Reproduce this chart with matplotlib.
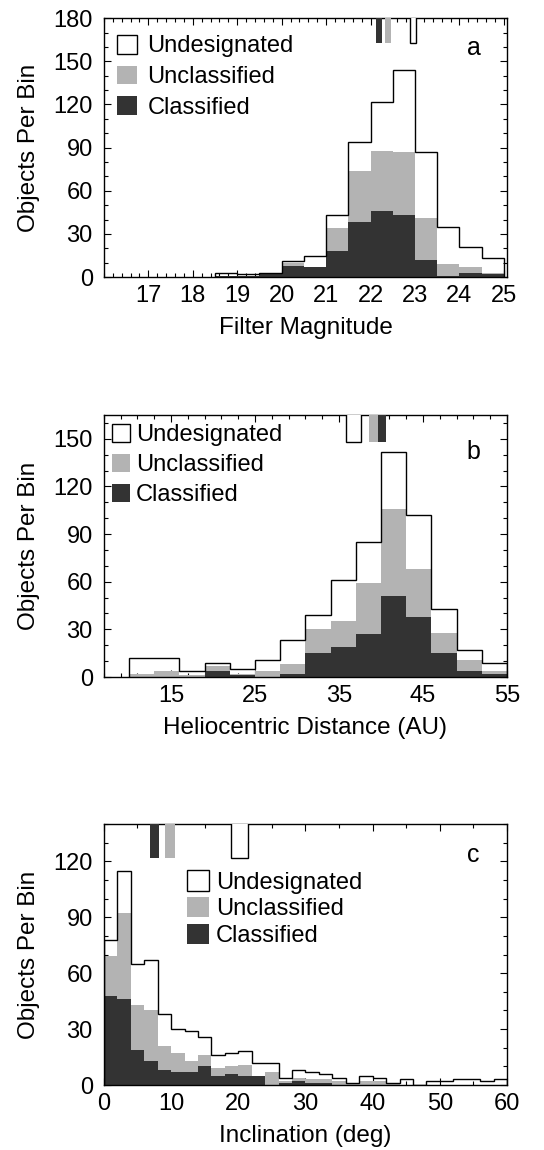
import numpy as np
import matplotlib
matplotlib.use("Agg")
import matplotlib.pyplot as plt
from matplotlib.patches import Patch
from matplotlib.ticker import MultipleLocator, FixedLocator

plt.rcParams['font.family'] = ['Liberation Sans', 'DejaVu Sans']

# ---------------- data ----------------
labels = ["Undesignated", "Unclassified", "Classified"]

# Panel a: filter magnitude, bins of 0.5 mag
edges_a = np.arange(18.5, 25.01, 0.5)
total_a = [3, 2, 3, 11, 15, 43, 94, 122, 144, 87, 35, 21, 13]
gray_a = [1, 1, 3, 10, 7, 34, 74, 88, 87, 41, 9, 7, 3]
black_a = [1, 1, 3, 8, 7, 18, 38, 46, 43, 12, 1, 3, 2]
mark_lo_a = [22.88, 22.33, 22.12]   # undesignated, unclassified, classified
mark_hi_a = [23.02, 22.46, 22.26]
mark_base_a = 163

# Panel b: heliocentric distance, bins of 3 AU
edges_b = np.arange(10, 55.01, 3)
total_b = [12, 12, 4, 9, 5, 11, 23, 39, 61, 85, 142, 102, 43, 17, 9]
gray_b = [2, 4, 1, 7, 2, 4, 8, 30, 35, 59, 106, 68, 28, 11, 4]
black_b = [0, 0, 0, 4, 1, 0, 2, 15, 19, 27, 51, 38, 15, 4, 2]
mark_lo_b = [35.84, 38.56, 39.61]
mark_hi_b = [37.61, 39.61, 40.63]
mark_base_b = 148

# Panel c: inclination, bins of 2 deg
edges_c = np.arange(0, 60.01, 2)
total_c = [78, 115, 65, 67, 38, 30, 29, 26, 16, 17, 18, 12, 12, 4, 8, 7, 6, 4, 1, 5,
           4, 1, 3, 0, 2, 2, 3, 3, 2, 3]
gray_c = [69, 92, 43, 40, 21, 17, 13, 16, 9, 10, 11, 5, 7, 2, 4, 3, 3, 2, 1, 2,
          2, 1, 0, 0, 0, 0, 0, 0, 0, 0]
black_c = [48, 46, 19, 13, 8, 7, 7, 10, 5, 6, 5, 5, 0, 1, 2, 1, 1, 0, 0, 0,
           0, 0, 0, 0, 0, 0, 0, 0, 0, 0]
mark_lo_c = [18.87, 9.06, 6.8]
mark_hi_c = [21.46, 10.57, 8.2]
mark_base_c = 122

DARK = "#333333"
GRAY = "#b3b3b3"

fig = plt.figure(figsize=(5.44, 11.5), dpi=100)


def panel(rect, edges, total, gray, black, mlo, mhi, mbase,
          xlim, ylim, xminor, ymajor, xlabel, letter, letter_y,
          xticks, leg_kw):
    ax = fig.add_axes(rect)
    edges = np.asarray(edges)
    widths = np.diff(edges)
    classified = np.asarray(black)
    unclassified = np.asarray(gray) - classified
    ax.bar(edges[:-1], classified, width=widths, align='edge', color=DARK,
           linewidth=0, zorder=2)
    ax.bar(edges[:-1], unclassified, width=widths, bottom=classified,
           align='edge', color=GRAY, linewidth=0, zorder=2)
    ax.stairs(total, edges, color='black', linewidth=1.0, baseline=0, zorder=3)
    # median markers at the top
    top = ylim[1] + 10
    fills = ['white', GRAY, DARK]
    edgec = ['black', 'none', 'none']
    for lo, hi, fc, ec in zip(mlo, mhi, fills, edgec):
        ax.bar(lo, top - mbase, width=hi - lo, bottom=mbase, align='edge',
               facecolor=fc, edgecolor=ec, linewidth=1.0, zorder=4)
    ax.set_xlim(*xlim)
    ax.set_ylim(*ylim)
    ax.xaxis.set_major_locator(FixedLocator(xticks))
    ax.xaxis.set_minor_locator(FixedLocator(xminor))
    ax.yaxis.set_major_locator(MultipleLocator(ymajor))
    ax.yaxis.set_minor_locator(MultipleLocator(10))
    ax.tick_params(which='both', direction='in', top=True, right=True,
                   labelsize=17, width=0.8)
    ax.tick_params(which='major', length=5)
    ax.tick_params(which='minor', length=3)
    ax.tick_params(axis='x', pad=6)
    ax.tick_params(axis='y', pad=8)
    for s in ax.spines.values():
        s.set_linewidth(1.0)
    ax.set_xlabel(xlabel, fontsize=17.5, labelpad=7)
    ax.set_ylabel("Objects Per Bin", fontsize=17.5, labelpad=10)
    ax.text(0.917, letter_y, letter, transform=ax.transAxes, fontsize=18,
            ha='center', va='center')
    handles = [Patch(facecolor='white', edgecolor='black', linewidth=1.0),
               Patch(facecolor=GRAY, edgecolor='none'),
               Patch(facecolor=DARK, edgecolor='none')]
    ax.legend(handles, labels, loc='upper left', frameon=False, fontsize=17,
              borderaxespad=0.3, **leg_kw)
    return ax


panel([0.191, 0.759, 0.741, 0.2252], edges_a, total_a, gray_a, black_a,
      mark_lo_a, mark_hi_a, mark_base_a, (16, 25.07), (0, 180),
      np.arange(16, 25.05, 0.2), 30, "Filter Magnitude", "a", 0.885,
      np.arange(17, 26, 1),
      dict(bbox_to_anchor=(-0.0075, 1.0), handlelength=0.85, handleheight=0.85,
           handletextpad=0.42, labelspacing=0.35))

panel([0.191, 0.4113, 0.741, 0.2278], edges_b, total_b, gray_b, black_b,
      mark_lo_b, mark_hi_b, mark_base_b, (7, 55), (0, 165),
      np.arange(7, 55.5, 2), 30, "Heliocentric Distance (AU)", "b", 0.86,
      [15, 25, 35, 45, 55],
      dict(bbox_to_anchor=(-0.022, 1.03), handlelength=0.8, handleheight=0.8,
           handletextpad=0.22, labelspacing=0.33))

panel([0.191, 0.0565, 0.741, 0.227], edges_c, total_c, gray_c, black_c,
      mark_lo_c, mark_hi_c, mark_base_c, (0, 60), (0, 140),
      np.arange(0, 60.5, 5), 30, "Inclination (deg)", "c", 0.88,
      np.arange(0, 61, 10),
      dict(bbox_to_anchor=(0.165, 0.886), handlelength=0.95, handleheight=0.95,
           handletextpad=0.27, labelspacing=0.15))

fig.savefig("out.png", dpi=100)
